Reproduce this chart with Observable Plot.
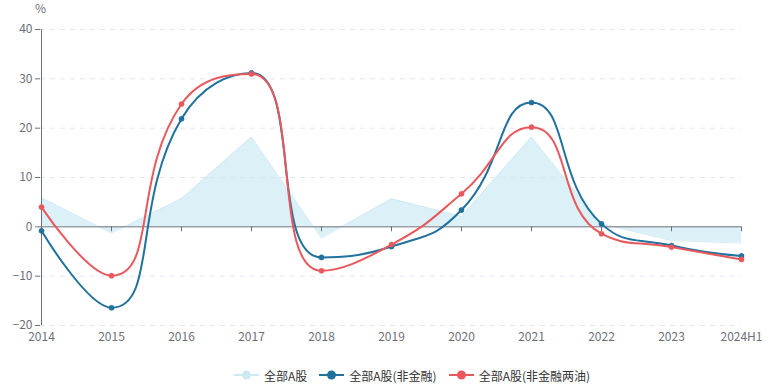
<!DOCTYPE html>
<html><head><meta charset="utf-8">
<script src="https://cdn.jsdelivr.net/npm/d3@7"></script>
<script src="https://cdn.jsdelivr.net/npm/@observablehq/plot@0.6"></script>
<style>
body{margin:0;background:#fff;font-family:"Noto Sans CJK SC","Noto Sans",sans-serif;}
#wrap{position:relative;width:778px;height:388px;overflow:hidden;}
#legend{position:absolute;left:23px;top:366px;width:778px;height:18px;display:flex;justify-content:center;align-items:center;font-size:12px;color:#333;}
.item{display:flex;align-items:center;margin:0 6px;white-space:nowrap;}
.item svg{margin-right:5px;}
</style></head><body><div id="wrap"><div id="chart"></div><div id="legend"></div></div>
<script>
const years = ["2014","2015","2016","2017","2018","2019","2020","2021","2022","2023","2024H1"];
const allA = [5.9, -1.3, 5.7, 18.2, -2.3, 5.7, 2.1, 18.2, 0.6, -2.8, -3.3];
const nonFin = [-0.8, -16.4, 21.9, 31.2, -6.2, -4.0, 3.4, 25.2, 0.6, -3.8, -5.9];
const nonFinOil = [4.0, -9.9, 24.9, 31.0, -8.9, -3.6, 6.7, 20.2, -1.4, -4.1, -6.6];
const seriesNames = ["全部A股","全部A股(非金融)","全部A股(非金融两油)"];
const yTicks = [-20,-10,0,10,20,30,40];
const unitLabel = ["%"];

const colArea = "#cdeaf3", colAreaLine = "#cfe9f2", colLegendArea = "#cde9f2", colBlue = "#21719d", colRed = "#e8585c";
const axisCol = "#6e7079";

// ECharts-like smooth curve (smooth = 0.5)
function echartsSmooth(context) {
  let pts;
  const smooth = 0.5;
  const mn = Math.min, mx = Math.max;
  return {
    areaStart(){}, areaEnd(){},
    lineStart(){ pts = []; },
    point(x, y){ pts.push([+x, +y]); },
    lineEnd(){
      const n = pts.length; if (!n) return;
      let cpx0, cpy0, prevX, prevY;
      for (let i = 0; i < n; i++) {
        const [x, y] = pts[i];
        if (i === 0) { context.moveTo(x, y); cpx0 = x; cpy0 = y; }
        else {
          let cpx1, cpy1, nextCpx0, nextCpy0;
          if (i === n - 1) { cpx1 = x; cpy1 = y; nextCpx0 = x; nextCpy0 = y; }
          else {
            const [nextX, nextY] = pts[i + 1];
            let vx = nextX - prevX, vy = nextY - prevY;
            const dx0 = x - prevX, dx1 = nextX - x, dy0 = y - prevY, dy1 = nextY - y;
            const lenPrev = Math.sqrt(dx0*dx0 + dy0*dy0);
            const lenNext = Math.sqrt(dx1*dx1 + dy1*dy1);
            const ratio = lenNext / (lenNext + lenPrev);
            nextCpx0 = x + vx * smooth * ratio;
            nextCpy0 = y + vy * smooth * ratio;
            nextCpx0 = mx(mn(nextCpx0, mx(nextX, x)), mn(nextX, x));
            nextCpy0 = mx(mn(nextCpy0, mx(nextY, y)), mn(nextY, y));
            vx = nextCpx0 - x; vy = nextCpy0 - y;
            cpx1 = x - vx * lenPrev / lenNext;
            cpy1 = y - vy * lenPrev / lenNext;
            cpx1 = mx(mn(cpx1, mx(prevX, x)), mn(prevX, x));
            cpy1 = mx(mn(cpy1, mx(prevY, y)), mn(prevY, y));
            vx = x - cpx1; vy = y - cpy1;
            nextCpx0 = x + vx * lenNext / lenPrev;
            nextCpy0 = y + vy * lenNext / lenPrev;
          }
          context.bezierCurveTo(cpx0, cpy0, cpx1, cpy1, x, y);
          cpx0 = nextCpx0; cpy0 = nextCpy0;
        }
        prevX = x; prevY = y;
      }
    }
  };
}

const data = years.map((y, i) => ({year: y, all: allA[i], nf: nonFin[i], nfo: nonFinOil[i]}));
const font = '"Noto Sans CJK SC","Noto Sans",sans-serif';

const chart = Plot.plot({
  width: 778, height: 350,
  marginLeft: 40, marginRight: 37, marginTop: 29, marginBottom: 25,
  style: {fontFamily: font, fontSize: "12px", color: axisCol, background: "#fff", overflow: "visible"},
  x: {type: "point", domain: years, padding: 0},
  y: {domain: [-20, 40]},
  marks: [
    Plot.gridY(yTicks.filter(d => d !== 0), {stroke: "#e0e6f1", strokeOpacity: 1, strokeDasharray: "5,5"}),
    Plot.areaY(data, {x: "year", y: "all", fill: colArea, fillOpacity: 0.7}),
    Plot.lineY(data, {x: "year", y: "all", stroke: colAreaLine, strokeWidth: 1, strokeOpacity: 0.8}),
    Plot.ruleY([0], {stroke: axisCol, strokeWidth: 1}),
    Plot.ruleX(years.slice(1), {y1: 0, y2: -1, stroke: axisCol}),
    Plot.ruleX([years[0]], {y1: -20, y2: 40, stroke: axisCol}),
    Plot.axisY({ticks: yTicks, tickSize: 5, tickPadding: 3, stroke: axisCol, fill: axisCol, label: null}),
    Plot.axisX({ticks: years, tickSize: 0, tickPadding: 7, fill: axisCol, label: null}),
    Plot.lineY(data, {x: "year", y: "nf", stroke: colBlue, strokeWidth: 2, curve: echartsSmooth}),
    Plot.dot(data, {x: "year", y: "nf", r: 2.6, fill: colBlue, stroke: colBlue, strokeWidth: 0.5}),
    Plot.lineY(data, {x: "year", y: "nfo", stroke: colRed, strokeWidth: 2, curve: echartsSmooth}),
    Plot.dot(data, {x: "year", y: "nfo", r: 2.6, fill: colRed, stroke: colRed, strokeWidth: 0.5}),
    Plot.text(unitLabel, {frameAnchor: "top-left", textAnchor: "middle", dy: -25, fill: axisCol, fontSize: 12})
  ]
});
document.getElementById("chart").appendChild(chart);

const legendColors = [colLegendArea, colBlue, colRed];
const legend = document.getElementById("legend");
seriesNames.forEach((name, i) => {
  const item = document.createElement("div");
  item.className = "item";
  item.innerHTML = `<svg width="25" height="14"><line x1="0" y1="7" x2="25" y2="7" stroke="${legendColors[i]}" stroke-width="2"/><circle cx="12.5" cy="7" r="4.5" fill="${legendColors[i]}"/></svg><span>${name}</span>`;
  legend.appendChild(item);
});
</script>
</body></html>
